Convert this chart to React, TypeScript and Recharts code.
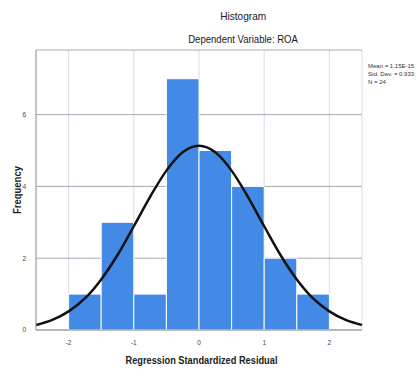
import { CartesianGrid, ComposedChart, Line, ReferenceArea, XAxis, YAxis } from 'recharts'

// histogram bins (lower edge, upper edge, count)
const binStarts = [-2, -1.5, -1, -0.5, 0, 0.5, 1, 1.5]
const binEnds = [-1.5, -1, -0.5, 0, 0.5, 1, 1.5, 2]
const counts = [1, 3, 1, 7, 5, 4, 2, 1]

// normal curve
const curveX = [-2.5, -2.25, -2, -1.75, -1.5, -1.25, -1, -0.75, -0.5, -0.25, 0, 0.25, 0.5, 0.75, 1, 1.25, 1.5, 1.75, 2, 2.25, 2.5]
const curveY = [0.14, 0.28, 0.52, 0.88, 1.41, 2.09, 2.89, 3.71, 4.44, 4.95, 5.13, 4.95, 4.44, 3.71, 2.89, 2.09, 1.41, 0.88, 0.52, 0.28, 0.14]

const xTicks = [-2, -1, 0, 1, 2]
const yTicks = [0, 2, 4, 6]
const stats = ['Mean = 1.15E-15', 'Std. Dev. = 0.933', 'N = 24']

const font = '"Liberation Sans", Arial, sans-serif'

// condensed look like the SPSS output
const Narrow = ({ children, k = 0.85 }: { children: string; k?: number }) => (
  <span style={{ display: 'inline-block', transform: `scaleX(${k})`, whiteSpace: 'nowrap' }}>{children}</span>
)

export default function App() {
  const data = curveX.map((x, i) => ({ x, y: curveY[i] }))
  const tick = { fontSize: 6.5, fill: '#444', fontFamily: font }

  return (
    <div style={{ position: 'absolute', left: 0, top: 0, width: 416, height: 369, background: '#fff', fontFamily: font }}>
      <div style={{ position: 'absolute', left: 0, width: 486, top: 10, textAlign: 'center', fontSize: 11.5, color: '#1a1a1a' }}>
        <Narrow k={0.88}>Histogram</Narrow>
      </div>
      <div style={{ position: 'absolute', left: 0, width: 486, top: 33, textAlign: 'center', fontSize: 11.5, color: '#1a1a1a' }}>
        <Narrow k={0.83}>Dependent Variable: ROA</Narrow>
      </div>
      <div style={{ position: 'absolute', left: 368, top: 62, fontSize: 6, lineHeight: '8px', color: '#333' }}>
        {stats.map((s) => <div key={s}>{s}</div>)}
      </div>
      <div style={{ position: 'absolute', left: 17, top: 190, transform: 'translate(-50%, -50%) rotate(-90deg)', fontSize: 11, fontWeight: 'bold', color: '#222', whiteSpace: 'nowrap' }}>
        <Narrow k={0.86}>Frequency</Narrow>
      </div>
      <div style={{ position: 'absolute', left: 0, width: 402, top: 354, textAlign: 'center', fontSize: 11, fontWeight: 'bold', color: '#222' }}>
        <Narrow k={0.84}>Regression Standardized Residual</Narrow>
      </div>
      <ComposedChart width={416} height={369} data={data} margin={{ top: 50, right: 54, bottom: 0, left: 0 }}>
        <CartesianGrid horizontal={false} stroke="#dcdce6" />
        <CartesianGrid vertical={false} stroke="#a8a8b4" />
        <XAxis dataKey="x" type="number" domain={[-2.5, 2.5]} ticks={xTicks} height={39} tick={tick} tickLine={false}
          axisLine={{ stroke: '#999' }} tickMargin={4} />
        <YAxis type="number" domain={[0, 7.8]} ticks={yTicks} width={36} tick={tick} tickLine={false}
          axisLine={{ stroke: '#999' }} tickMargin={4} />
        {counts.map((c, i) => (
          <ReferenceArea key={i} x1={binStarts[i]} x2={binEnds[i]} y1={0} y2={c} fill="#4389e6" fillOpacity={1}
            stroke="#ffffff" strokeWidth={1} />
        ))}
        <Line dataKey="y" type="monotone" stroke="#111" strokeWidth={2.5} dot={false} isAnimationActive={false} />
      </ComposedChart>
    </div>
  )
}
